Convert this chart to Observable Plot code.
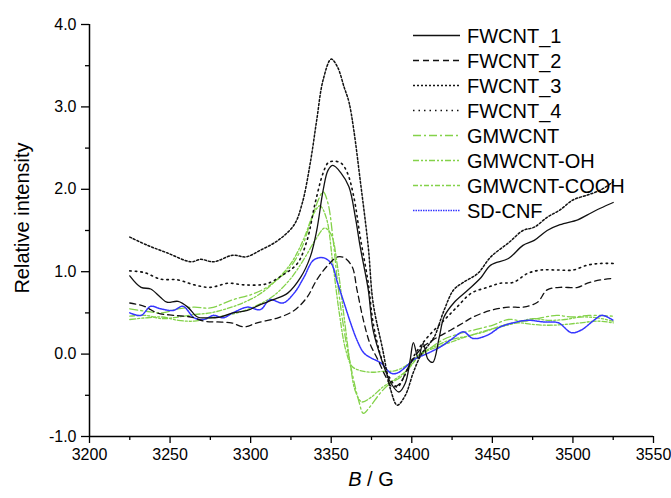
<!DOCTYPE html>
<html><head><meta charset="utf-8">
<script src="https://cdn.jsdelivr.net/npm/d3@7"></script>
<script src="https://cdn.jsdelivr.net/npm/@observablehq/plot@0.6"></script>
<style>body{margin:0;background:#fff;} #chart{width:671px;height:498px;}</style>
</head><body><div id="chart"></div>
<script>
// ---- data (B in gauss, relative intensity) ----
const seriesNames = ["FWCNT_1","FWCNT_2","FWCNT_3","FWCNT_4","GMWCNT","GMWCNT-OH","GMWCNT-COOH","SD-CNF"];

const fw1B = [3225,3232,3238,3244,3248,3255,3261,3267,3273,3281,3289,3298,3306,3314,3323,3331,3337,3341,3345,3348,3351,3356,3361,3365,3368,3373,3376,3382,3387,3392,3396,3399,3401,3404,3407,3410,3413,3417,3420,3426,3435,3443,3449,3460,3469,3476,3484,3492,3503,3509,3517,3525];
const fw1V = [0.95,0.81,0.79,0.69,0.63,0.64,0.57,0.45,0.44,0.45,0.50,0.53,0.60,0.66,0.74,0.93,1.18,1.50,1.99,2.23,2.29,2.20,2.03,1.66,1.30,0.78,0.29,-0.11,-0.35,-0.46,-0.35,-0.07,0.14,-0.05,0.13,-0.06,-0.10,0.20,0.45,0.62,0.78,0.93,1.08,1.16,1.32,1.38,1.50,1.57,1.63,1.69,1.77,1.84];

const fw2B = [3225,3234,3242,3252,3263,3271,3279,3288,3296,3304,3317,3327,3335,3341,3348,3354,3358,3363,3366,3370,3374,3379,3384,3388,3393,3397,3405,3413,3424,3432,3438,3449,3460,3469,3478,3484,3492,3503,3509,3517,3525];
const fw2V = [0.62,0.58,0.50,0.47,0.45,0.40,0.39,0.38,0.33,0.38,0.44,0.53,0.69,0.90,1.08,1.18,1.17,1.06,0.78,0.41,0.13,-0.07,-0.28,-0.40,-0.35,-0.19,0.05,0.17,0.29,0.38,0.45,0.53,0.57,0.57,0.63,0.78,0.81,0.81,0.86,0.90,0.92];

const fw3B = [3225,3236,3248,3263,3269,3277,3289,3297,3306,3317,3327,3332,3337,3341,3345,3350,3354,3358,3361,3364,3368,3373,3376,3382,3387,3391,3396,3401,3406,3410,3414,3420,3426,3432,3441,3449,3460,3469,3476,3484,3492,3500,3509,3517,3525];
const fw3V = [1.42,1.32,1.23,1.12,1.15,1.12,1.20,1.18,1.26,1.38,1.57,1.83,2.32,2.84,3.33,3.58,3.48,3.24,3.06,2.72,2.11,1.30,0.62,0.05,-0.44,-0.62,-0.50,-0.22,0.00,0.10,0.21,0.53,0.78,0.87,0.98,1.18,1.35,1.50,1.54,1.66,1.75,1.87,1.93,1.99,2.09];

const fw4B = [3225,3234,3244,3255,3265,3275,3286,3296,3306,3311,3320,3329,3335,3340,3345,3348,3351,3356,3360,3364,3368,3373,3376,3381,3386,3391,3395,3402,3410,3420,3428,3437,3447,3455,3463,3472,3480,3491,3500,3509,3517,3525];
const fw4V = [1.01,0.99,0.91,0.90,0.84,0.81,0.86,0.84,0.84,0.86,0.96,1.10,1.38,1.83,2.20,2.32,2.34,2.32,2.20,1.91,1.42,0.86,0.38,-0.04,-0.28,-0.40,-0.28,0.00,0.21,0.41,0.57,0.74,0.81,0.86,0.87,0.98,1.02,1.02,1.02,1.08,1.10,1.10];

const gmB = [3225,3235,3245,3255,3265,3275,3289,3300,3310,3323,3331,3337,3342,3345,3348,3351,3354,3358,3363,3367,3370,3374,3381,3387,3393,3400,3410,3420,3430,3440,3450,3460,3470,3480,3490,3500,3510,3525];
const gmV = [0.55,0.52,0.50,0.55,0.57,0.56,0.66,0.72,0.81,1.02,1.26,1.59,1.87,1.97,1.83,1.42,0.86,0.29,-0.23,-0.56,-0.72,-0.64,-0.46,-0.35,-0.28,-0.12,0.05,0.18,0.25,0.30,0.35,0.42,0.40,0.44,0.47,0.45,0.47,0.46];

const gohB = [3225,3235,3245,3255,3265,3275,3285,3295,3305,3315,3325,3333,3340,3346,3350,3354,3358,3362,3365,3369,3375,3382,3390,3398,3405,3415,3425,3435,3445,3455,3465,3475,3485,3495,3505,3515,3525];
const gohV = [0.42,0.44,0.45,0.41,0.40,0.44,0.47,0.52,0.60,0.72,0.92,1.15,1.38,1.53,1.45,1.05,0.45,-0.15,-0.45,-0.58,-0.52,-0.40,-0.30,-0.18,0.00,0.10,0.18,0.22,0.28,0.33,0.38,0.43,0.41,0.42,0.45,0.44,0.40];

const gcoB = [3225,3235,3245,3255,3265,3275,3285,3295,3305,3315,3325,3333,3339,3343,3347,3351,3355,3359,3363,3368,3375,3382,3390,3398,3405,3415,3425,3435,3445,3455,3465,3475,3485,3495,3505,3515,3525];
const gcoV = [0.46,0.47,0.43,0.45,0.48,0.50,0.55,0.62,0.72,0.88,1.10,1.40,1.70,1.80,1.65,1.10,0.50,0.05,-0.15,-0.20,-0.22,-0.21,-0.20,-0.12,0.00,0.08,0.15,0.22,0.27,0.34,0.38,0.36,0.35,0.36,0.38,0.40,0.38];

const sdB = [3225,3232,3238,3244,3252,3258,3265,3271,3277,3283,3289,3298,3306,3312,3320,3327,3333,3339,3345,3350,3354,3358,3362,3366,3370,3374,3381,3387,3391,3396,3401,3410,3418,3424,3432,3438,3447,3455,3463,3472,3482,3491,3499,3505,3513,3518,3525];
const sdV = [0.50,0.47,0.58,0.55,0.53,0.58,0.44,0.42,0.47,0.44,0.50,0.57,0.54,0.66,0.62,0.74,0.93,1.14,1.17,1.10,0.86,0.62,0.38,0.17,0.02,-0.04,-0.11,-0.23,-0.23,-0.16,-0.07,0.01,0.09,0.17,0.27,0.19,0.23,0.33,0.38,0.41,0.39,0.38,0.26,0.29,0.41,0.47,0.41];

const xTicks = [3200,3250,3300,3350,3400,3450,3500,3550];
const xMinorTicks = [3225,3275,3325,3375,3425,3475,3525];
const yTicks = [-1,0,1,2,3,4];
const yMinorTicks = [-0.5,0.5,1.5,2.5,3.5];

// ---- styling ----
const GREEN = "#84d24a", BLUE = "#3535ff", BLACK = "#111";
const styles = {
  "FWCNT_1":     {stroke: BLACK, dash: "none", w: 1.3},
  "FWCNT_2":     {stroke: BLACK, dash: "6,4", w: 1.3},
  "FWCNT_3":     {stroke: BLACK, dash: "2,2", w: 1.5},
  "FWCNT_4":     {stroke: BLACK, dash: "1.5,4", w: 1.6},
  "GMWCNT":      {stroke: GREEN, dash: "8,3,2,3", w: 1.3},
  "GMWCNT-OH":   {stroke: GREEN, dash: "6,2,2,2,2,2", w: 1.3},
  "GMWCNT-COOH": {stroke: GREEN, dash: "5,2,2,2", w: 1.3},
  "SD-CNF":      {stroke: BLUE, dash: "1.5,1", w: 1.5}
};
const seriesB = [fw1B, fw2B, fw3B, fw4B, gmB, gohB, gcoB, sdB];
const seriesV = [fw1V, fw2V, fw3V, fw4V, gmV, gohV, gcoV, sdV];

const rows = [];
seriesNames.forEach((n, k) => seriesB[k].forEach((b, i) => rows.push({name: n, B: b, v: seriesV[k][i]})));

const drawOrder = ["GMWCNT","GMWCNT-OH","GMWCNT-COOH","SD-CNF","FWCNT_4","FWCNT_2","FWCNT_3","FWCNT_1"];
const lineMarks = drawOrder.map(n => Plot.line(rows.filter(r => r.name === n), {
  x: "B", y: "v", stroke: styles[n].stroke, strokeWidth: styles[n].w,
  strokeDasharray: styles[n].dash === "none" ? null : styles[n].dash, curve: "catmull-rom"
}));

const plot = Plot.plot({
  width: 671, height: 498,
  marginLeft: 89, marginRight: 18, marginTop: 24, marginBottom: 62,
  style: {fontFamily: "'Liberation Sans', Arial, sans-serif", fontSize: "16px", background: "#fff", color: "#000"},
  x: {domain: [3200, 3550]},
  y: {domain: [-1, 4]},
  marks: [
    Plot.axisX({ticks: xTicks, tickSize: 7, tickPadding: 5, tickFormat: d => String(d), label: null, strokeWidth: 1.3, fontSize: 16}),
    Plot.axisX({ticks: xMinorTicks, tickSize: 4, tickFormat: () => "", label: null, strokeWidth: 1.3}),
    Plot.axisY({ticks: yTicks, tickSize: 8, tickPadding: 5, tickFormat: d => d.toFixed(1), label: null, strokeWidth: 1.3, fontSize: 16}),
    Plot.axisY({ticks: yMinorTicks, tickSize: 4, tickFormat: () => "", label: null, strokeWidth: 1.3}),
    Plot.ruleX([3200], {strokeWidth: 1.5}),
    Plot.ruleY([-1], {strokeWidth: 1.5}),
    ...lineMarks
  ]
});
document.getElementById("chart").appendChild(plot);

// ---- axis titles and legend ----
const svg = d3.select(plot);
const ff = "'Liberation Sans', Arial, sans-serif";
svg.append("text")
  .attr("transform", "translate(22,218) rotate(-90)")
  .attr("text-anchor", "middle").attr("dominant-baseline", "central")
  .attr("font-family", ff).attr("font-size", 20).attr("fill", "#000")
  .text("Relative intensity");
const xl = svg.append("text")
  .attr("x", 371).attr("y", 486).attr("text-anchor", "middle")
  .attr("font-family", ff).attr("font-size", 20).attr("fill", "#000");
xl.append("tspan").attr("font-style", "italic").text("B");
xl.append("tspan").text(" / G");

const lg = svg.append("g");
seriesNames.forEach((n, i) => {
  const y = 35.5 + i * 25;
  const s = styles[n];
  lg.append("line").attr("x1", 413).attr("x2", 460).attr("y1", y).attr("y2", y)
    .attr("stroke", s.stroke).attr("stroke-width", s.w)
    .attr("stroke-dasharray", s.dash === "none" ? null : s.dash);
  lg.append("text").attr("x", 467).attr("y", y).attr("text-anchor", "start")
    .attr("dominant-baseline", "central")
    .attr("font-family", ff).attr("font-size", 20).attr("fill", "#000").text(n);
});
</script>
</body></html>
